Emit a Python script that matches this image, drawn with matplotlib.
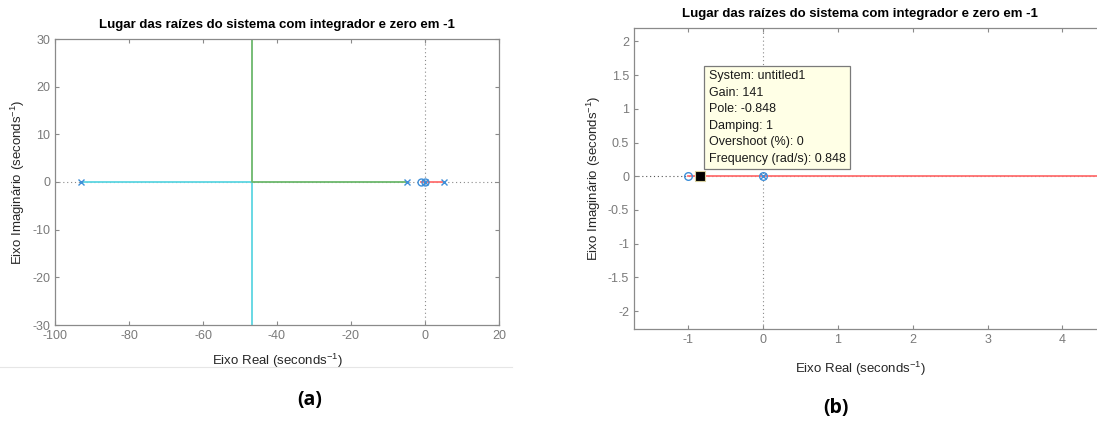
import matplotlib.pyplot as plt
from matplotlib.lines import Line2D

# ==============================
# Data
# ==============================
poles = [-93, -5, 0, 5]
zeros = [-1, 0]
breakaway = -46.7

cyan_x = [-93, breakaway, breakaway]
cyan_y = [0, 0, -30]
green_x = [-5, breakaway, breakaway]
green_y = [0, 0, 30]
red_x = [5, -1]
red_y = [0, 0]

# zoomed view (b)
red_b_x = [-1, 6]
red_b_y = [0, 0]
tip_gain = 141
tip_pole = -0.848

title = "Lugar das raízes do sistema com integrador e zero em -1"
xlab = "Eixo Real (seconds$^{-1}$)"
ylab = "Eixo Imaginário (seconds$^{-1}$)"

BLUE = "#3F8FD8"
CYAN = "#5DD6E2"
GREEN = "#6CB86C"
RED = "#FF6F6F"
GRAY = "#8a8a8a"

plt.rcParams["font.family"] = ["Liberation Sans", "DejaVu Sans"]
plt.rcParams["axes.unicode_minus"] = False
plt.rcParams["mathtext.default"] = "regular"


def style_axes(ax, right_ticks=True):
    for s in ax.spines.values():
        s.set_color(GRAY)
        s.set_linewidth(0.9)
    ax.tick_params(direction="in", length=3, width=0.8, colors=GRAY,
                   labelsize=9, labelcolor="#7a7a7a",
                   top=True, right=right_ticks)


fig = plt.figure(figsize=(10.97, 4.21), dpi=100)

# ==============================
# (a) full root locus
# ==============================
ax1 = fig.add_axes([55 / 1097, 96 / 421, 444 / 1097, 286 / 421])
ax1.axhline(0, color=GRAY, lw=0.8, ls=(0, (1, 2.5)), zorder=1)
ax1.axvline(0, color=GRAY, lw=0.8, ls=(0, (1, 2.5)), zorder=1)
ax1.plot(cyan_x, cyan_y, color=CYAN, lw=1.3, zorder=2)
ax1.plot(green_x, green_y, color=GREEN, lw=1.3, zorder=2)
ax1.plot(red_x, red_y, color=RED, lw=1.3, zorder=2)
ax1.plot(poles, [0] * len(poles), "x", color=BLUE, ms=4, mew=1, zorder=3)
ax1.plot(zeros, [0] * len(zeros), "o", color=BLUE, mfc="none", ms=5, mew=1, zorder=3)
ax1.set_xlim(-100, 20)
ax1.set_ylim(-30, 30)
ax1.set_xticks([-100, -80, -60, -40, -20, 0, 20])
ax1.set_yticks([-30, -20, -10, 0, 10, 20, 30])
style_axes(ax1)
ax1.set_title(title, fontsize=9.5, fontweight="bold", pad=8)
ax1.set_xlabel(xlab, fontsize=9.5, color="#262626")
ax1.xaxis.set_label_coords(0.5, -0.095)
ax1.set_ylabel(ylab, fontsize=9.5, color="#262626")
ax1.yaxis.set_label_coords(-0.064, 0.5)

# ==============================
# (b) zoom near the origin
# ==============================
axw = 466
ax2 = fig.add_axes([634 / 1097, 91.7 / 421, axw / 1097, 301.3 / 421])
ax2.axhline(0, color="#555555", lw=0.8, ls=(0, (1, 2.5)), zorder=1)
ax2.axvline(0, color=GRAY, lw=0.8, ls=(0, (1, 2.5)), zorder=1)
ax2.plot(red_b_x, red_b_y, color=RED, lw=1.3, zorder=2)
ax2.plot(zeros, [0] * len(zeros), "o", color=BLUE, mfc="none", ms=5.5, mew=1, zorder=3)
ax2.plot([0], [0], "x", color=BLUE, ms=4, mew=1, zorder=3)
ax2.plot([tip_pole], [0], "s", color="black", mec="#d8d0a0", ms=6.5, mew=0.8, zorder=4)
ax2.set_xlim(-1.726, -1.726 + axw / 74.8)
ax2.set_ylim(-2.27, 2.2)
ax2.set_xticks([-1, 0, 1, 2, 3, 4])
ax2.set_yticks([-2, -1.5, -1, -0.5, 0, 0.5, 1, 1.5, 2])
ax2.set_yticklabels(["-2", "-1.5", "-1", "-0.5", "0", "0.5", "1", "1.5", "2"])
style_axes(ax2, right_ticks=False)
ax2.spines["right"].set_visible(False)
ax2.set_title(title, fontsize=9.5, fontweight="bold", pad=8, x=226 / axw)
ax2.set_xlabel(xlab, fontsize=9.5, color="#262626")
ax2.xaxis.set_label_coords(226 / axw, -0.1)
ax2.set_ylabel(ylab, fontsize=9.5, color="#262626")
ax2.yaxis.set_label_coords(-0.066, 0.5)

tip = "\n".join([
    "System: untitled1",
    f"Gain: {tip_gain}",
    f"Pole: {tip_pole}",
    "Damping: 1",
    "Overshoot (%): 0",
    f"Frequency (rad/s): {-tip_pole}",
])
ax2.text(-0.725, 0.17, tip, fontsize=9, color="#1a1a1a", va="bottom", ha="left",
         linespacing=1.5, zorder=5,
         bbox=dict(boxstyle="square,pad=0.35", fc="#FFFFE6", ec="#7a7a7a", lw=0.9))

# ==============================
# Panel labels and separator
# ==============================
fig.add_artist(Line2D([0, 512 / 1097], [1 - 367 / 421] * 2, color="#e6e6e6", lw=0.8))
fig.text(310 / 1097, 1 - 400 / 421, "(a)", fontsize=14, fontweight="bold",
         ha="center", va="center", family=["Open Sans", "DejaVu Sans"])
fig.text(836 / 1097, 1 - 408 / 421, "(b)", fontsize=14, fontweight="bold",
         ha="center", va="center", family=["Open Sans", "DejaVu Sans"])

fig.savefig("out.png", dpi=100, facecolor="white")
